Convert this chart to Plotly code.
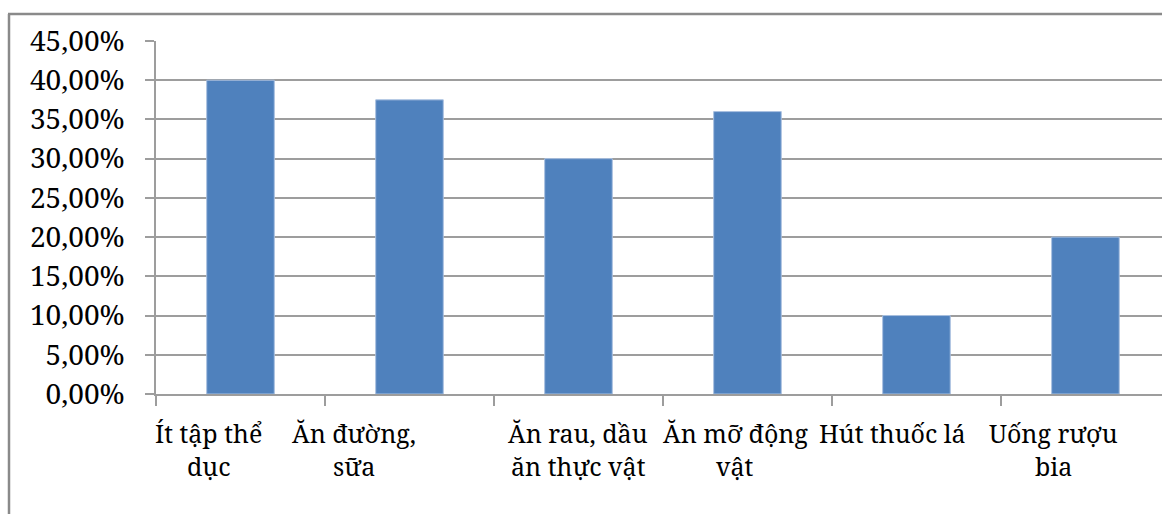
import plotly.graph_objects as go

# Risk factors and share of respondents (%)
categories = ["Ít tập thể<br>dục", "Ăn đường,<br>sữa", "Ăn rau, dầu<br>ăn thực vật",
              "Ăn mỡ động<br>vật", "Hút thuốc lá", "Uống rượu<br>bia"]
values = [40.0, 37.5, 30.0, 36.0, 10.0, 20.0]
y_ticks = [0, 5, 10, 15, 20, 25, 30, 35, 40, 45]
y_tick_text = [f"{v:.2f}".replace(".", ",") + "%" for v in y_ticks]

W, H = 1162, 514
L, R, T, B = 156, 0, 41, 120
FONT = "Noto Serif"
GRID = "#9d9d9d"

# horizontal nudge of each category label (px)
label_shift = [-32, -55, 0, -12, -24, -32]

fig = go.Figure(go.Bar(
    x=list(range(len(categories))),
    y=values,
    width=0.4,
    marker=dict(color="#4F81BD", line=dict(color="#A9C0E0", width=1)),
    hoverinfo="y",
))

fig.update_layout(
    width=W, height=H,
    margin=dict(l=L, r=R, t=T, b=B, pad=0),
    paper_bgcolor="white", plot_bgcolor="white",
    showlegend=False,
    font=dict(family=FONT, size=27, color="black"),
)

fig.update_xaxes(
    type="linear",
    range=[-0.5, 5.453],
    tickvals=[i - 0.5 for i in range(len(categories) + 1)],
    showticklabels=False,
    ticks="outside", ticklen=10, tickcolor=GRID, tickwidth=1.5,
    showgrid=False, zeroline=False,
    showline=True, linecolor=GRID, linewidth=1.5,
)

fig.update_yaxes(
    range=[0, 45],
    tickvals=y_ticks, ticktext=y_tick_text,
    ticks="outside", ticklen=9, tickcolor=GRID, tickwidth=1.5,
    ticklabelstandoff=15,
    showgrid=True, gridcolor=GRID, gridwidth=1.5,
    zeroline=False,
    showline=True, linecolor=GRID, linewidth=1.5,
    tickfont=dict(family=FONT, size=28, color="black"),
)

# Category labels, one annotation per text line
line_gap = 33
for i, (label, dx) in enumerate(zip(categories, label_shift)):
    for j, part in enumerate(label.split("<br>")):
        fig.add_annotation(
            x=i, xref="x", y=0, yref="paper",
            yanchor="top", xanchor="center",
            yshift=-20 - j * line_gap, xshift=dx,
            text=part, showarrow=False,
            font=dict(family=FONT, size=25, color="black"),
        )

# Outer frame (top and left edges)
pw, ph = W - L - R, H - T - B
def px(xp):
    return (xp - L) / pw
def py(yp):
    return (H - B - yp) / ph

fig.add_shape(type="line", xref="paper", yref="paper",
              x0=px(9), y0=py(H + 2), x1=px(9), y1=py(14),
              line=dict(color="#8a8a8a", width=2.5))
fig.add_shape(type="line", xref="paper", yref="paper",
              x0=px(8), y0=py(14), x1=px(W + 2), y1=py(14),
              line=dict(color="#8a8a8a", width=2.5))

fig.write_html("out.html")
